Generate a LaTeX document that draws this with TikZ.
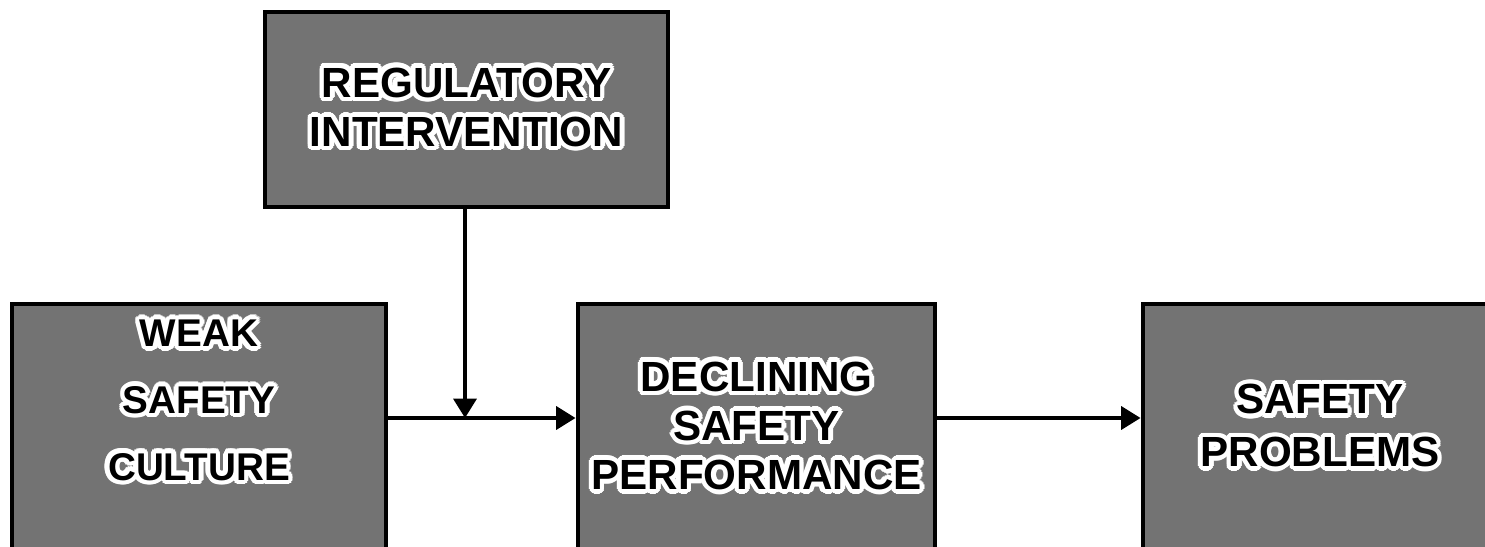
\documentclass[tikz,border=0pt]{standalone}
\usepackage{fontspec}
\setmainfont{Liberation Sans}
\usepackage[copies]{contour}
\usepackage{tikz}
\usetikzlibrary{arrows.meta,positioning}
\contourlength{1.3pt}
\contournumber{16}
\newcommand{\halo}[1]{\contour{white}{#1}}

\begin{document}
\begin{tikzpicture}[
  box/.style={rectangle, draw=black, line width=1.4pt, fill=black!55, align=center, inner sep=0pt,
    font=\bfseries\fontsize{12}{14}\selectfont},
  link/.style={draw, line width=1.1pt},
  >={Triangle[length=5.5pt,width=6.5pt]}
]
\useasboundingbox (0,0) rectangle (14.85,-5.46);
\clip (0,0) rectangle (14.85,-5.46);

\node[box, minimum width=4.03cm, minimum height=1.95cm] (reg) at (4.665,-1.095)
  {\halo{REGULATORY}\\\halo{INTERVENTION}};
\node[box, minimum width=3.74cm, minimum height=2.48cm, text depth=0.56cm,
  font=\bfseries\fontsize{11}{19}\selectfont] (weak) at (1.99,-4.28)
  {\halo{WEAK}\\\halo{SAFETY}\\\halo{CULTURE}};
\node[box, minimum width=3.57cm, minimum height=2.48cm] (decl) at (7.565,-4.28)
  {\halo{DECLINING}\\\halo{SAFETY}\\\halo{PERFORMANCE}};
\node[box, minimum width=3.54cm, minimum height=2.48cm,
  font=\bfseries\fontsize{12}{15}\selectfont] (prob) at (13.20,-4.28)
  {\halo{SAFETY}\\\halo{PROBLEMS}};

\coordinate (junc) at (4.65,-4.18);

\draw[link] (weak.east |- junc) -- (junc);
\draw[link, ->] (junc) -- (decl.west |- junc);
\draw[link, ->] (reg.south -| junc) -- (junc);
\draw[link, ->] (decl.east |- junc) -- (prob.west |- junc);
\end{tikzpicture}
\end{document}
